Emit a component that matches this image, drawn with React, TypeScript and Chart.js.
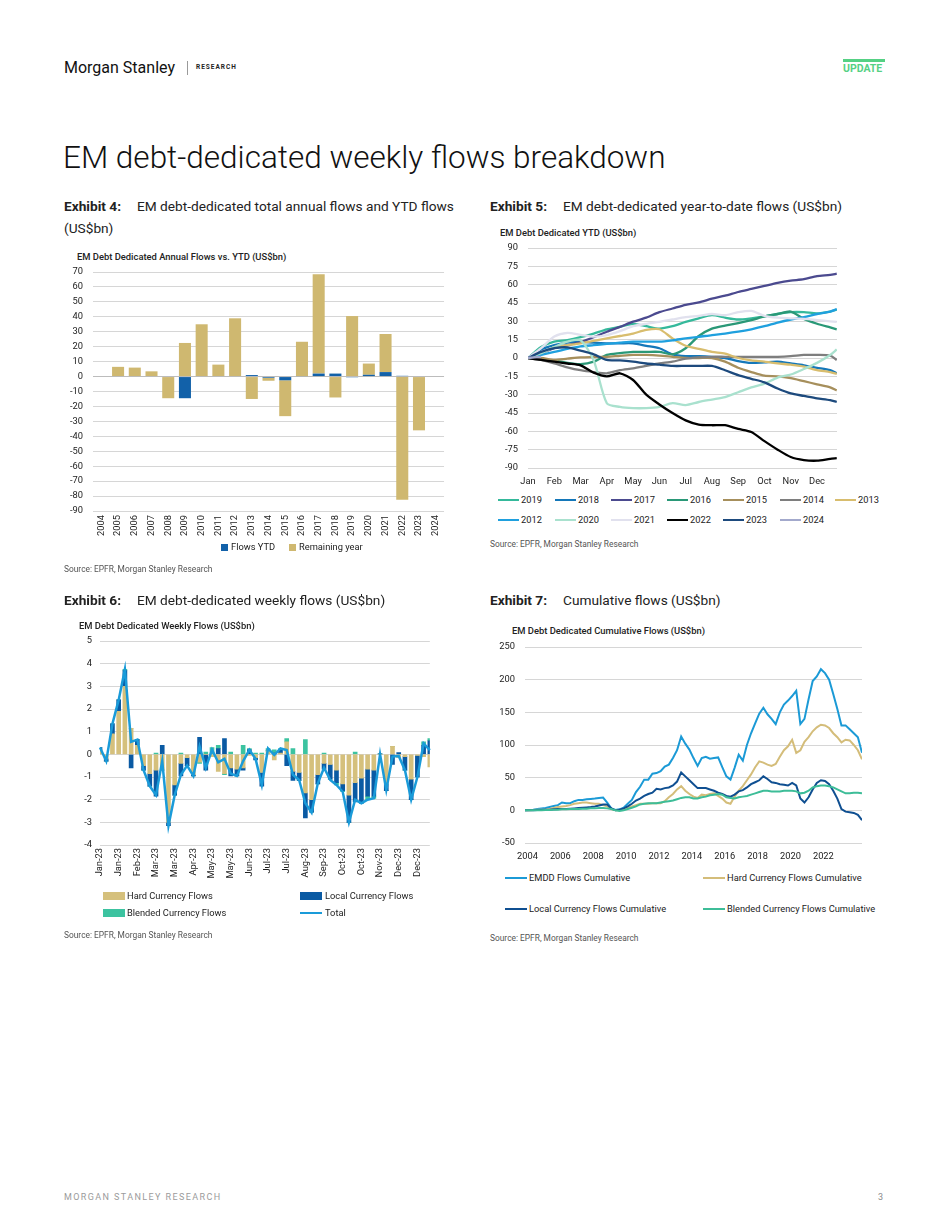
import React, { useEffect, useRef } from 'react';
import { Chart, registerables } from 'chart.js';

Chart.register(...registerables);

const FONT = 'Roboto, "Noto Sans", "DejaVu Sans", sans-serif';
const INK = '#222222';
const GRID = '#d6d6d6';

// ---------------- Exhibit 4: annual flows vs YTD ----------------
const annualYears = ['2004', '2005', '2006', '2007', '2008', '2009', '2010', '2011', '2012', '2013', '2014', '2015', '2016', '2017', '2018', '2019', '2020', '2021', '2022', '2023', '2024'];
const annualFlowsYTD = [0, 0, 0, 0, 0, -14.5, 0, 0, 0, 1, -0.8, -2.5, 0.3, 2, 2, -0.5, 1.2, 3, 0.5, 0, 0];
const annualRemaining = [0, 6.5, 6, 3.5, -14.5, 22.5, 35, 8, 39, -15, -2, -24, 23, 66.5, -14, 40.5, 7.5, 25.5, -82.5, -36, 0];
const annualNames = ['Flows YTD', 'Remaining year'];

// ---------------- Exhibit 5: YTD flows by year ----------------
const ytdMonthLabels = ['Jan', 'Feb', 'Mar', 'Apr', 'May', 'Jun', 'Jul', 'Aug', 'Sep', 'Oct', 'Nov', 'Dec'];
const ytdMonthPos = [0, 0.5, 1, 1.5, 2, 2.5, 3, 3.5, 4, 4.5, 5, 5.5, 6, 6.5, 7, 7.5, 8, 8.5, 9, 9.5, 10, 10.5, 11, 11.5, 11.75];
const ytd2019 = [0, 9, 13.4, 14.7, 17, 20, 23.5, 25.5, 28, 26, 24, 26, 29.5, 32.5, 35, 33, 31.5, 32.5, 34, 36, 37.5, 37.5, 36.5, 38, 39.5];
const ytd2018 = [0, 7, 10.6, 12.5, 13.4, 12.5, 12, 12, 12, 10, 8, 3, 1.5, 1.5, 1, 0, -2.5, -4, -3.5, -3, -4.5, -6, -8, -10, -12.5];
const ytd2017 = [0, 4, 8, 10.5, 13, 17, 21.5, 25.5, 29.7, 33, 37.5, 40.5, 43.5, 45.5, 48.5, 51, 54, 56.5, 59, 61.5, 63.3, 64.5, 67, 68, 69];
const ytd2016 = [0, -1, -2, -4, -5, -3, 2.5, 4, 5, 5, 5, 3, 8, 18, 24, 26.5, 28.5, 31, 34, 36, 38, 32, 28, 25, 23.5];
const ytd2015 = [0, 0, -1.5, -0.5, 0.5, 0.8, 1, 1.8, 2.5, 2.5, 2, 1, 0, 0, 0, -3, -8, -11.5, -14.5, -15, -16.5, -19, -21.5, -24, -26.5];
const ytd2014 = [0, -1.6, -4.4, -7.6, -10, -11.5, -12.5, -10, -8.5, -6.5, -4.5, -3, -0.5, 0.5, 1, 1, 1, 1, 1, 1, 1.5, 2.5, 2.5, 2, -1.6];
const ytd2013 = [0, 3.8, 9, 10.5, 12, 14, 16, 18, 20, 23, 23.5, 16, 10, 7.5, 5, 3.5, 0, -2, -3, -4.4, -5.5, -7, -10, -11.5, -13];
const ytd2012 = [0, 2.5, 5, 7.5, 9.5, 10.5, 11.5, 12.5, 13.4, 13.4, 13.4, 14.5, 16, 17.3, 18.8, 20, 21.5, 23.5, 26, 29, 31.5, 33.5, 36, 38, 40];
const ytd2020 = [0, 4, 9, 13.4, 14.5, -2, -37, -40, -41, -41, -40, -37, -38.5, -36, -34, -32, -28, -24, -21, -16, -13.5, -9, -4, 2.5, 7];
const ytd2021 = [0, 8, 17.5, 20.5, 19, 17.5, 18.8, 22, 26, 28, 29.5, 31.5, 33.5, 34.5, 36, 35, 37.5, 38.5, 34.5, 33, 32.5, 32, 31, 30, 29.5];
const ytd2022 = [0, -1.6, -3, -4.5, -6, -12, -15, -12.5, -18, -30, -38, -45, -51, -54.5, -55, -55, -58, -60.5, -68, -75, -81, -83.5, -84, -82.5, -82];
const ytd2023 = [0, 5, 8, 8.7, 6, 3, -1.6, -2, -3, -4.5, -5.5, -6.5, -6.5, -6.5, -6.5, -10, -14, -17, -20, -25, -29, -31, -33, -34.5, -36];
const ytd2024 = [0, 1];
const ytdNames = ['2019', '2018', '2017', '2016', '2015', '2014', '2013', '2012', '2020', '2021', '2022', '2023', '2024'];
const ytdValues = [ytd2019, ytd2018, ytd2017, ytd2016, ytd2015, ytd2014, ytd2013, ytd2012, ytd2020, ytd2021, ytd2022, ytd2023, ytd2024];
const ytdColors = ['#35b99b', '#1477b9', '#4b4a8f', '#2a9877', '#a68f5c', '#7e7e7e', '#d8bd6e', '#1fa0de', '#a9e1ce', '#e1e1ee', '#000000', '#1d4a7d', '#a3a9cc'];

// ---------------- Exhibit 6: weekly flows 2023 ----------------
const weeklyTickLabels = ['Jan-23', 'Jan-23', 'Feb-23', 'Mar-23', 'Mar-23', 'Apr-23', 'May-23', 'May-23', 'Jun-23', 'Jul-23', 'Jul-23', 'Aug-23', 'Sep-23', 'Oct-23', 'Oct-23', 'Nov-23', 'Dec-23', 'Dec-23'];
const weeklyHard = [0.2, -0.2, 0.9, 1.9, 3.0, 1.15, 0.4, -0.5, -0.85, -0.7, -0.7, -3.0, -1.35, -0.4, -0.15, -0.9, -0.35, 0, -0.1, -0.75, -0.85, -0.6, -0.65, -0.6, -0.05, -0.15, -0.8, 0.15, -0.25, 0.05, 0.55, -0.75, -0.8, -1.7, -2.0, -0.9, -0.4, -0.45, -0.7, -1.3, -1.8, -1.25, -1.05, -0.65, -0.7, 0, -1.3, 0.35, -0.15, -0.1, -1.1, -0.05, -0.1, -0.55];
const weeklyLocal = [0.1, -0.1, 0.45, 0.5, 0.7, -0.6, 0.25, -0.2, -0.55, -1.15, 0.4, -0.15, -0.45, -0.55, -0.35, -0.05, 0.75, -0.7, 0, 0.25, 0.7, -0.35, -0.3, -0.1, 0.2, -0.1, -0.6, 0, 0.05, 0.15, -0.5, -0.4, -0.35, -1.1, -0.55, -0.4, -0.25, -0.65, -0.55, -0.3, -1.2, -0.85, -1.1, -1.2, -1.15, 0.02, -0.3, -0.45, 0.08, -0.6, -0.9, -0.95, 0.4, 0.6];
const weeklyBlended = [0, 0, 0, 0, 0.05, 0, 0, 0, 0, 0.05, 0, 0, 0, 0.05, 0, 0, -0.05, 0.1, 0.3, 0.15, -0.05, 0.1, 0, 0.4, 0.05, 0.05, 0.05, 0.1, 0.15, 0.05, 0.15, 0.25, 0, 0.65, 0, 0, 0.05, 0, -0.1, -0.05, 0, 0.1, 0, -0.15, -0.1, 0, 0, 0, 0, 0, 0, 0, 0.15, 0.1];
const weeklyTotal = [0.3, -0.3, 1.35, 2.4, 3.75, 0.55, 0.65, -0.7, -1.4, -1.8, -0.3, -3.15, -1.8, -0.9, -0.5, -0.95, 0.35, -0.6, 0.2, -0.35, -0.2, -0.85, -0.95, -0.3, 0.2, -0.2, -1.35, 0.26, -0.03, 0.26, 0.19, -0.9, -1.13, -2.16, -2.57, -1.28, -0.59, -1.13, -1.35, -1.65, -3.0, -2.0, -2.16, -2.0, -1.94, 0, -1.57, -0.1, -0.07, -0.7, -2.0, -1.0, 0.48, 0.19];
const weeklyNames = ['Hard Currency Flows', 'Local Currency Flows', 'Blended Currency Flows', 'Total'];

// ---------------- Exhibit 7: cumulative flows ----------------
const cumTickLabels = ['2004', '2006', '2008', '2010', '2012', '2014', '2016', '2018', '2020', '2022'];
const cumStartYear = 2003.85;
const cumStepYears = 0.25;
const cumEMDD = [0, 0.5, 1, 2, 3, 3.6, 5, 6.5, 8, 12, 11, 11, 14, 16, 16, 17, 17.5, 18, 19, 19.5, 12, 3, 0.5, 1.5, 4, 10, 16, 28, 36, 47, 47, 56, 57, 60, 67, 70, 80, 92, 113, 102, 93, 80, 68, 80, 82, 79, 80, 81, 66, 52, 47, 65, 85, 76, 100, 118, 133, 148, 157, 147, 140, 132, 150, 162, 168, 175, 183, 132, 140, 170, 198, 205, 216, 210, 200, 178, 155, 130, 130, 124, 118, 112, 88];
const cumHard = [0, 0, 0.5, 1, 1, 1, 2, 3.5, 5, 6, 6.5, 8, 10, 11, 12, 12, 11, 10, 10, 8, 6, 2, 0, 0.5, 2, 4, 6, 8, 10, 10, 10, 11, 11, 11, 14, 20, 25, 32, 37, 30, 25, 21, 19, 24, 23, 25, 26, 22, 18, 12, 10, 21, 30, 37, 46, 55, 66, 75, 73, 70, 68, 71, 82, 92, 98, 108, 88, 92, 105, 112, 121, 127, 131, 130, 126, 118, 112, 104, 108, 107, 100, 92, 78];
const cumLocal = [0, 0, 0, 0.5, 0.5, 1, 1, 1.5, 2, 2, 2, 2.5, 3, 3.5, 4, 4.5, 5, 6, 7.5, 9, 9, 3, 0, 1, 3, 6, 10, 15, 18, 22, 25, 27, 33, 32, 34, 35, 38, 44, 58, 52, 46, 40, 34, 34, 34, 32, 30, 27, 25, 22, 21, 24, 29, 31, 35, 40, 43, 46, 52, 48, 43, 42, 40, 39, 38, 42, 38, 18, 12, 20, 32, 42, 46, 45, 40, 30, 18, 2, -2, -3, -4, -7, -15];
const cumBlended = [0, 0, 0, 0, 0.3, 0.5, 0.5, 1, 1, 1.5, 1.5, 2, 2, 2, 2.5, 2.5, 3, 3, 3.5, 3.5, 3, 2, 0, -1, 0, 2, 4, 6, 9, 10, 11, 11, 11, 12, 13, 14, 15, 17, 19, 20, 20, 18, 18, 20, 21, 23, 24, 25, 24, 20, 19, 18, 20, 21, 22, 24, 26, 28, 30, 30, 29, 29, 29, 30, 30, 30, 29, 26, 27, 30, 35, 37, 38, 38, 37, 35, 32, 29, 26, 26, 27, 27, 26];
const cumNames = ['EMDD Flows Cumulative', 'Hard Currency Flows Cumulative', 'Local Currency Flows Cumulative', 'Blended Currency Flows Cumulative'];

// ---------------- colours ----------------
const TAN4 = '#cfb870';
const BLUE4 = '#1261a9';
const HARD6 = '#d5c07c';
const LOCAL6 = '#0a5aa3';
const BLEND6 = '#3cc3a0';
const TOTAL6 = '#1a9bd9';
const cumColors = ['#1b9ad6', '#d4bd7a', '#0f4f91', '#3dbd98'];

const tickFont = { family: FONT, size: 9.3 };
const LEG = 9.3;

function yAxis(min: number, max: number, step: number, width: number, gap: number, zeroColor?: string) {
  return {
    min,
    max,
    ticks: { stepSize: step, font: tickFont, color: INK, padding: 0 },
    grid: {
      color: (c: any) => (zeroColor && c.tick && c.tick.value === 0 ? zeroColor : GRID),
      drawTicks: true,
      tickLength: gap,
      tickColor: 'rgba(0,0,0,0)',
      lineWidth: 1,
    },
    border: { display: false },
    afterFit: (s: any) => {
      s.width = width;
    },
  };
}

const xGridOff = { display: false, drawTicks: false };

function ChartCanvas(props: { left: number; top: number; width: number; height: number; make: () => any }) {
  const ref = useRef<HTMLCanvasElement>(null);
  useEffect(() => {
    const chart = new Chart(ref.current as HTMLCanvasElement, props.make());
    return () => chart.destroy();
  }, []);
  return (
    <canvas
      ref={ref}
      width={props.width}
      height={props.height}
      style={{ position: 'absolute', left: props.left, top: props.top, width: props.width, height: props.height }}
    />
  );
}

const baseOptions = {
  responsive: false,
  maintainAspectRatio: false,
  animation: false,
  plugins: { legend: { display: false }, tooltip: { enabled: false }, title: { display: false } },
};

function makeAnnual() {
  return {
    type: 'bar',
    data: {
      labels: annualYears,
      datasets: [
        { label: annualNames[0], data: annualFlowsYTD, backgroundColor: BLUE4, barPercentage: 0.72, categoryPercentage: 1 },
        { label: annualNames[1], data: annualRemaining, backgroundColor: TAN4, barPercentage: 0.72, categoryPercentage: 1 },
      ],
    },
    options: {
      ...baseOptions,
      layout: { padding: { top: 7, right: 6, left: 0, bottom: 0 } },
      scales: {
        x: {
          stacked: true,
          grid: xGridOff,
          border: { display: false },
          ticks: { font: tickFont, color: INK, minRotation: 90, maxRotation: 90, autoSkip: false, padding: 4 },
          afterFit: (s: any) => {
            s.height = 35;
          },
        },
        y: { stacked: true, ...yAxis(-90, 70, 10, 29, 10, '#bcbcbc') },
      },
    },
  };
}

function makeYTD() {
  return {
    type: 'line',
    data: {
      datasets: ytdNames.map((name, k) => ({
        label: name,
        data: ytdValues[k].map((v, i) => ({ x: ytdMonthPos[i], y: v })),
        borderColor: ytdColors[k],
        backgroundColor: ytdColors[k],
        borderWidth: 2.3,
        pointRadius: 0,
        tension: 0.25,
        order: -k,
      })),
    },
    options: {
      ...baseOptions,
      layout: { padding: { top: 8, right: 6, left: 0, bottom: 0 } },
      scales: {
        x: {
          type: 'linear',
          min: 0,
          max: 11.76,
          grid: xGridOff,
          border: { display: false },
          afterBuildTicks: (s: any) => {
            s.ticks = ytdMonthLabels.map((_, i) => ({ value: i }));
          },
          ticks: {
            font: tickFont,
            color: INK,
            padding: 8,
            maxRotation: 0,
            autoSkip: false,
            callback: (v: any) => ytdMonthLabels[v],
          },
          afterFit: (s: any) => {
            s.height = 22;
          },
        },
        y: yAxis(-90, 90, 15, 38, 10),
      },
    },
  };
}

function makeWeekly() {
  const labels = weeklyTotal.map((_, i) => (i % 3 === 0 ? weeklyTickLabels[i / 3] : ''));
  return {
    type: 'bar',
    data: {
      labels,
      datasets: [
        { type: 'line', label: weeklyNames[3], data: weeklyTotal, borderColor: TOTAL6, backgroundColor: TOTAL6, borderWidth: 2.5, pointRadius: 0, tension: 0, order: 0 },
        { label: weeklyNames[0], data: weeklyHard, backgroundColor: HARD6, barThickness: 4, order: 1 },
        { label: weeklyNames[1], data: weeklyLocal, backgroundColor: LOCAL6, barThickness: 4, order: 1 },
        { label: weeklyNames[2], data: weeklyBlended, backgroundColor: BLEND6, barThickness: 4, order: 1 },
      ],
    },
    options: {
      ...baseOptions,
      layout: { padding: { top: 6, right: 6, left: 0, bottom: 0 } },
      scales: {
        x: {
          stacked: true,
          offset: false,
          grid: xGridOff,
          border: { display: false },
          ticks: { font: tickFont, color: INK, minRotation: 90, maxRotation: 90, autoSkip: false, padding: 3 },
          afterFit: (s: any) => {
            s.height = 36;
          },
        },
        y: { stacked: true, ...yAxis(-4, 5, 1, 36, 8) },
      },
    },
  };
}

function makeCumulative() {
  const series = [cumEMDD, cumHard, cumLocal, cumBlended];
  return {
    type: 'line',
    data: {
      datasets: series.map((vals, k) => ({
        label: cumNames[k],
        data: vals.map((v, i) => ({ x: cumStartYear + i * cumStepYears, y: v })),
        borderColor: cumColors[k],
        backgroundColor: cumColors[k],
        borderWidth: 2,
        pointRadius: 0,
        tension: 0,
        order: -k,
      })),
    },
    options: {
      ...baseOptions,
      layout: { padding: { top: 7, right: 6, left: 0, bottom: 0 } },
      scales: {
        x: {
          type: 'linear',
          min: 2003.85,
          max: 2024.35,
          grid: xGridOff,
          border: { display: false },
          afterBuildTicks: (s: any) => {
            s.ticks = cumTickLabels.map((l) => ({ value: Number(l) }));
          },
          ticks: { font: tickFont, color: INK, padding: 8, maxRotation: 0, autoSkip: false, callback: (v: any) => String(v) },
          afterFit: (s: any) => {
            s.height = 22;
          },
        },
        y: yAxis(-50, 250, 50, 35, 10),
      },
    },
  };
}

function Txt(props: { x: number; y: number; size: number; weight?: number; color?: string; ls?: number; children: any }) {
  const { x, y, size, weight = 400, color = INK, ls = 0 } = props;
  return (
    <div
      style={{
        position: 'absolute',
        left: x,
        top: y - size * 0.6,
        fontSize: size,
        lineHeight: `${size * 1.2}px`,
        fontWeight: weight,
        color,
        letterSpacing: ls,
        fontFamily: FONT,
        whiteSpace: 'nowrap',
      }}
    >
      {props.children}
    </div>
  );
}

function Swatch(props: { x: number; y: number; w: number; h: number; color: string }) {
  return (
    <div
      style={{
        position: 'absolute',
        left: props.x,
        top: props.y - props.h / 2,
        width: props.w,
        height: props.h,
        background: props.color,
      }}
    />
  );
}

const ytdLegendCols = [498, 555, 611, 667, 723, 780, 835];
const CAP = 13.7;
const SUB = 9.4;
const SRC = 8.4;

export default function App() {
  const source = 'Source: EPFR, Morgan Stanley Research';
  return (
    <div style={{ position: 'absolute', left: 0, top: 0, width: 950, height: 1230, background: '#ffffff', overflow: 'hidden', fontFamily: FONT }}>
      {/* header */}
      <Txt x={64} y={68} size={16} color="#111">Morgan Stanley</Txt>
      <div style={{ position: 'absolute', left: 187, top: 61, width: 1, height: 14, background: '#9a9a9a' }} />
      <Txt x={196} y={68} size={6.5} weight={700} ls={1} color="#222">RESEARCH</Txt>
      <div style={{ position: 'absolute', left: 843, top: 59, width: 42, height: 3, background: '#55d184' }} />
      <Txt x={843} y={69} size={10.5} weight={700} color="#55d184">UPDATE</Txt>

      <Txt x={63} y={158} size={31.5} weight={300} color="#111">EM debt-dedicated weekly flows breakdown</Txt>

      {/* exhibit 4 */}
      <Txt x={64} y={206} size={CAP} weight={700}>Exhibit 4:</Txt>
      <Txt x={137} y={206} size={CAP}>EM debt-dedicated total annual flows and YTD flows</Txt>
      <Txt x={64} y={228} size={CAP}>(US$bn)</Txt>
      <Txt x={77} y={257} size={SUB} weight={500}>EM Debt Dedicated Annual Flows vs. YTD (US$bn)</Txt>
      <ChartCanvas left={64} top={265} width={387} height={281} make={makeAnnual} />
      <Swatch x={221} y={547} w={7} h={7} color={BLUE4} />
      <Txt x={231} y={547} size={LEG}>{annualNames[0]}</Txt>
      <Swatch x={289} y={547} w={7} h={7} color={TAN4} />
      <Txt x={299} y={547} size={LEG}>{annualNames[1]}</Txt>
      <Txt x={64} y={569} size={SRC} color="#555">{source}</Txt>

      {/* exhibit 5 */}
      <Txt x={490} y={206} size={CAP} weight={700}>Exhibit 5:</Txt>
      <Txt x={563} y={206} size={CAP}>EM debt-dedicated year-to-date flows (US$bn)</Txt>
      <Txt x={500} y={233} size={SUB} weight={500}>EM Debt Dedicated YTD (US$bn)</Txt>
      <ChartCanvas left={490} top={240} width={353} height={250} make={makeYTD} />
      {ytdNames.map((name, k) => {
        const col = k < 7 ? k : k - 7;
        const y = k < 7 ? 500 : 520;
        const x = ytdLegendCols[col];
        return (
          <React.Fragment key={name}>
            <Swatch x={x} y={y} w={21} h={2.5} color={ytdColors[k]} />
            <Txt x={x + 23} y={y} size={LEG}>{name}</Txt>
          </React.Fragment>
        );
      })}
      <Txt x={490} y={544} size={SRC} color="#555">{source}</Txt>

      {/* exhibit 6 */}
      <Txt x={64} y={600} size={CAP} weight={700}>Exhibit 6:</Txt>
      <Txt x={137} y={600} size={CAP}>EM debt-dedicated weekly flows (US$bn)</Txt>
      <Txt x={79} y={626} size={SUB} weight={500}>EM Debt Dedicated Weekly Flows (US$bn)</Txt>
      <ChartCanvas left={64} top={635} width={380} height={246} make={makeWeekly} />
      <Swatch x={103} y={896} w={22} h={8} color={HARD6} />
      <Txt x={127} y={896} size={LEG}>{weeklyNames[0]}</Txt>
      <Swatch x={300} y={896} w={22} h={8} color={LOCAL6} />
      <Txt x={325} y={896} size={LEG}>{weeklyNames[1]}</Txt>
      <Swatch x={103} y={913} w={22} h={8} color={BLEND6} />
      <Txt x={127} y={913} size={LEG}>{weeklyNames[2]}</Txt>
      <Swatch x={300} y={913} w={22} h={2.5} color={TOTAL6} />
      <Txt x={325} y={913} size={LEG}>{weeklyNames[3]}</Txt>
      <Txt x={64} y={935} size={SRC} color="#555">{source}</Txt>

      {/* exhibit 7 */}
      <Txt x={490} y={600} size={CAP} weight={700}>Exhibit 7:</Txt>
      <Txt x={563} y={600} size={CAP}>Cumulative flows (US$bn)</Txt>
      <Txt x={512} y={631} size={SUB} weight={500}>EM Debt Dedicated Cumulative Flows (US$bn)</Txt>
      <ChartCanvas left={490} top={640} width={378} height={225} make={makeCumulative} />
      {cumNames.map((name, k) => {
        const x = k % 2 === 0 ? 505 : 703;
        const y = k < 2 ? 878 : 909;
        return (
          <React.Fragment key={name}>
            <Swatch x={x} y={y} w={22} h={2.5} color={cumColors[k]} />
            <Txt x={x + 24} y={y} size={LEG}>{name}</Txt>
          </React.Fragment>
        );
      })}
      <Txt x={490} y={938} size={SRC} color="#555">{source}</Txt>

      {/* footer */}
      <Txt x={64} y={1197} size={9} ls={1.4} color="#9b9b9b">MORGAN STANLEY RESEARCH</Txt>
      <Txt x={878} y={1197} size={9} color="#8a8a8a">3</Txt>
    </div>
  );
}
